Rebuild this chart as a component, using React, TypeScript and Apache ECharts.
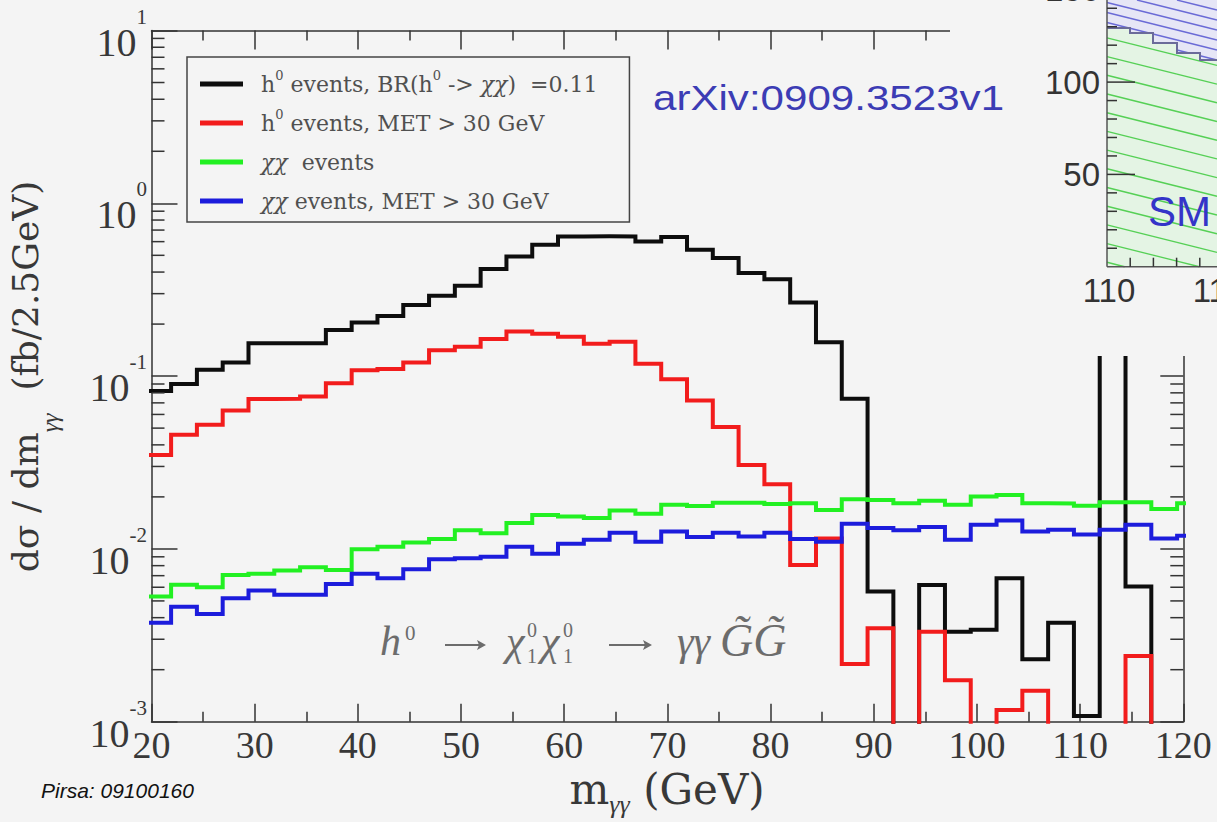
import React, { useEffect, useRef } from "react";
import * as echarts from "echarts";

// ---------- data ----------
// histogram bins: left edge of first bin and bin width (GeV)
const BIN_START = 19.4;
const BIN_WIDTH = 2.5;

const SERIES_NAMES = [
  "h0 events, BR(h0 -> χχ) = 0.11",
  "h0 events, MET > 30 GeV",
  "χχ events",
  "χχ events, MET > 30 GeV",
];

// dσ/dm (fb / 2.5 GeV); 0 = empty bin (below the axis)
const BLACK_H0 = [
  0.082, 0.09, 0.109, 0.12, 0.155, 0.155, 0.155, 0.185, 0.204, 0.223,
  0.258, 0.292, 0.333, 0.417, 0.493, 0.576, 0.643, 0.645, 0.643, 0.601,
  0.638, 0.539, 0.482, 0.395, 0.364, 0.267, 0.157, 0.074, 0.00566, 0,
  0.00619, 0.00332, 0.0034, 0.00677, 0.0023, 0.00374, 0.00108, 0.3, 0.00605, 0,
  0,
];
const RED_H0_MET = [
  0.035, 0.0457, 0.0523, 0.0632, 0.0736, 0.074, 0.0762, 0.091, 0.108, 0.11,
  0.12, 0.141, 0.148, 0.164, 0.181, 0.176, 0.169, 0.154, 0.158, 0.118,
  0.096, 0.0722, 0.0507, 0.0306, 0.0237, 0.00808, 0.0115, 0.00216, 0.00347, 0,
  0.00332, 0.00174, 0, 0.00117, 0.00151, 0, 0, 0, 0.0024, 0,
  0,
];
const GREEN_XX = [
  0.0053, 0.0062, 0.006, 0.00707, 0.00717, 0.00749, 0.00784, 0.00755, 0.00996, 0.0103,
  0.0109, 0.0114, 0.0128, 0.0123, 0.0141, 0.0157, 0.0154, 0.0151, 0.0167, 0.016,
  0.018, 0.0177, 0.0185, 0.0185, 0.0182, 0.0184, 0.0168, 0.0194, 0.0192, 0.0184,
  0.019, 0.018, 0.0201, 0.0205, 0.0184, 0.0183, 0.0178, 0.0186, 0.0186, 0.017,
  0.0184,
];
const BLUE_XX_MET = [
  0.00374, 0.00463, 0.0042, 0.00518, 0.00574, 0.00542, 0.00542, 0.00627, 0.00717, 0.00677,
  0.00763, 0.00872, 0.00884, 0.00902, 0.0103, 0.00936, 0.0107, 0.0113, 0.0124, 0.011,
  0.0126, 0.0117, 0.0124, 0.0118, 0.0124, 0.0114, 0.011, 0.014, 0.0132, 0.0128,
  0.0134, 0.0113, 0.0138, 0.0146, 0.0126, 0.0129, 0.0121, 0.0129, 0.0138, 0.0115,
  0.0119,
];

const SERIES_COLORS = ["#0d0d0d", "#f21c1c", "#22f022", "#1c1cdc"];

const X_MIN = 20;
const X_MAX = 120;
const Y_MIN = 0.001;
const Y_MAX = 10;

const INSET_Y_LABELS = ["150", "100", "50"];
const INSET_X_LABELS = ["110", "115"];

// ---------- helpers ----------
const SERIF = "'Liberation Serif', 'DejaVu Serif', serif";
const DSERIF = "'DejaVu Serif', 'Liberation Serif', serif";
const SANS = "'Liberation Sans', Arial, sans-serif";
const FLOOR = 1e-5;
const ANN = "#6c6c6c";

function histPoints(values: number[]): number[][] {
  const pts: number[][] = [];
  values.forEach((v, i) => {
    const lo = BIN_START + i * BIN_WIDTH;
    const hi = lo + BIN_WIDTH;
    const y = v > 0 ? v : FLOOR;
    pts.push([lo, y], [hi, y]);
  });
  return pts;
}

const MINOR_TICKS: number[] = [];
for (let e = -3; e <= 0; e++) {
  for (let m = 2; m <= 9; m++) MINOR_TICKS.push(m * Math.pow(10, e));
}

const LEGEND_LABELS: Record<string, string> = {
  [SERIES_NAMES[0]]: "{f|h}{s|0}{t| events, BR(h}{s|0}{t| -> }{c|χχ}{t|)  =0.11}",
  [SERIES_NAMES[1]]: "{f|h}{s|0}{t| events, MET > 30 GeV}",
  [SERIES_NAMES[2]]: "{fc|χχ}{t|  events}",
  [SERIES_NAMES[3]]: "{fc|χχ}{t| events, MET > 30 GeV}",
};

type Col = { x0: number; x1: number; top: number; bottom: number };

function hatch(cols: Col[], slope: number, spacing: number, x0: number, color: string, width: number) {
  const out: any[] = [];
  const minTop = Math.min(...cols.map((c) => c.top));
  const maxBottom = Math.max(...cols.map((c) => c.bottom));
  const xEnd = Math.max(...cols.map((c) => c.x1));
  for (let c = minTop - slope * (xEnd - x0) - spacing; c <= maxBottom + spacing; c += spacing) {
    cols.forEach((col) => {
      const ya = c + slope * (col.x0 - x0);
      const xa = col.x0 + Math.max(0, (col.top - ya) / slope);
      const xb = Math.min(col.x1, col.x0 + (col.bottom - ya) / slope);
      if (xb - xa > 0.5) {
        out.push({
          type: "line",
          z: 52,
          silent: true,
          shape: { x1: xa, y1: c + slope * (xa - x0), x2: xb, y2: c + slope * (xb - x0) },
          style: { stroke: color, lineWidth: width },
        });
      }
    });
  }
  return out;
}

function insetGraphics() {
  const L = 1107; // inset left axis
  const B = 266.7; // inset bottom axis
  const R = 1217;
  const steps = [
    { x0: L, x1: 1130, y: 28 },
    { x0: 1130, x1: 1153, y: 33 },
    { x0: 1153, x1: 1177, y: 43 },
    { x0: 1177, x1: 1200, y: 53 },
    { x0: 1200, x1: R, y: 60 },
  ];
  const els: any[] = [];
  els.push({
    type: "rect", z: 50, silent: true,
    shape: { x: 950, y: 0, width: R - 950, height: 356 },
    style: { fill: "#f4f4f4" },
  });
  const greenPts: number[][] = [[L, B]];
  const bluePts: number[][] = [[L, 0], [R, 0]];
  const boundary: number[][] = [];
  steps.forEach((s) => {
    greenPts.push([s.x0, s.y], [s.x1, s.y]);
    boundary.push([s.x0, s.y], [s.x1, s.y]);
  });
  greenPts.push([R, B]);
  [...steps].reverse().forEach((s) => bluePts.push([s.x1, s.y], [s.x0, s.y]));
  els.push({ type: "polygon", z: 51, silent: true, shape: { points: bluePts }, style: { fill: "#e6e6f6" } });
  els.push({ type: "polygon", z: 51, silent: true, shape: { points: greenPts }, style: { fill: "#e4f4e4" } });
  els.push(...hatch(steps.map((s) => ({ x0: s.x0, x1: s.x1, top: 0, bottom: s.y })), 0.25, 10, L, "#6a6ad6", 1.3));
  els.push(...hatch(steps.map((s) => ({ x0: s.x0, x1: s.x1, top: s.y, bottom: B })), 0.25, 18.7, L, "#55d055", 1.4));
  els.push({ type: "polyline", z: 53, silent: true, shape: { points: boundary }, style: { stroke: "#6b6b9a", lineWidth: 2, fill: "none" } });
  els.push({ type: "line", z: 54, silent: true, shape: { x1: L, y1: 0, x2: L, y2: B }, style: { stroke: "#555", lineWidth: 1.5 } });
  els.push({ type: "line", z: 54, silent: true, shape: { x1: L, y1: B, x2: R, y2: B }, style: { stroke: "#555", lineWidth: 1.5 } });
  const unit = 92.3 / 50;
  for (let k = 1; k * 10 * unit <= B; k++) {
    const y = B - k * 10 * unit;
    const major = k % 5 === 0;
    els.push({ type: "line", z: 54, silent: true, shape: { x1: L, y1: y, x2: L + (major ? 28 : 10), y2: y }, style: { stroke: "#333", lineWidth: 1.5 } });
  }
  for (let k = 1; k <= 4; k++) {
    const x = L + k * 23.2;
    els.push({ type: "line", z: 54, silent: true, shape: { x1: x, y1: B, x2: x, y2: B - 9 }, style: { stroke: "#333", lineWidth: 1.5 } });
  }
  INSET_Y_LABELS.forEach((t, i) => {
    els.push({
      type: "text", z: 55, silent: true, x: 1100, y: B - (150 - 50 * i) * unit,
      style: { text: t, font: `33px ${SANS}`, fill: "#333", align: "right", verticalAlign: "middle" },
    });
  });
  INSET_X_LABELS.forEach((t, i) => {
    els.push({
      type: "text", z: 55, silent: true, x: L + 2 + i * 110, y: 290,
      style: { text: t, font: `33px ${SANS}`, fill: "#333", align: "center", verticalAlign: "middle" },
    });
  });
  els.push({
    type: "text", z: 56, silent: true, x: 1148, y: 211,
    style: { text: "SM", font: `42px ${SANS}`, fill: "#3434c8", align: "left", verticalAlign: "middle" },
  });
  return els;
}

function annText(text: string, x: number, y: number, size: number, italic: boolean) {
  return {
    type: "text", z: 60, silent: true, x, y,
    style: {
      text,
      font: `${italic ? "italic " : ""}${size}px ${SERIF}`,
      fill: ANN, align: "left", verticalAlign: "middle",
    },
  };
}

function annArrow(x0: number, x1: number, y: number) {
  return [
    { type: "line", z: 60, silent: true, shape: { x1: x0, y1: y, x2: x1 - 4, y2: y }, style: { stroke: ANN, lineWidth: 2 } },
    { type: "polygon", z: 60, silent: true, shape: { points: [[x1, y], [x1 - 9, y - 5], [x1 - 7, y], [x1 - 9, y + 5]] }, style: { fill: ANN } },
  ];
}

function annotationGraphics() {
  // h0 -> χ1^0 χ1^0 -> γγ G~ G~
  return [
    annText("h", 380, 641, 42, true),
    annText("0", 405, 633, 21, false),
    ...annArrow(445, 486, 645),
    annText("χ", 506, 641, 42, true),
    annText("0", 527, 630, 20, false),
    annText("1", 527, 656, 20, false),
    annText("χ", 541, 641, 42, true),
    annText("0", 563, 630, 20, false),
    annText("1", 563, 656, 20, false),
    ...annArrow(609, 652, 645),
    annText("γγ", 677, 641, 42, true),
    annText("G̃G̃", 720, 640, 46, true),
  ];
}

function buildOption(): any {
  const lineSeries = [BLACK_H0, RED_H0_MET, GREEN_XX, BLUE_XX_MET].map((vals, i) => ({
    type: "line",
    name: SERIES_NAMES[i],
    data: histPoints(vals),
    showSymbol: false,
    symbol: "none",
    clip: true,
    color: SERIES_COLORS[i],
    lineStyle: { color: SERIES_COLORS[i], width: 4, join: "miter" },
    z: 2 + i * 0.1,
    silent: true,
  }));

  const axisLine = { show: true, onZero: false, lineStyle: { color: "#333", width: 1.5 } };
  const tickStyle = { color: "#333", width: 1.5 };
  const LC = "#505050";
  const AC = "#383838";

  return {
    animation: false,
    backgroundColor: "#f4f4f4",
    textStyle: { fontFamily: SERIF },
    grid: { left: 151.5, right: 33.7, top: 30.5, bottom: 100.3, containLabel: false, outerBoundsMode: "none" },
    legend: {
      orient: "vertical",
      left: 187,
      top: 57,
      padding: [12, 32, 6, 13],
      itemGap: 9,
      itemWidth: 43,
      itemHeight: 5,
      icon: "rect",
      borderColor: "#444",
      borderWidth: 1.5,
      backgroundColor: "#f4f4f4",
      selectedMode: false,
      data: SERIES_NAMES,
      formatter: (name: string) => LEGEND_LABELS[name],
      textStyle: {
        fontFamily: DSERIF,
        fontSize: 22,
        color: LC,
        lineHeight: 30,
        rich: {
          f: { fontFamily: DSERIF, fontSize: 22, color: LC, lineHeight: 30, padding: [0, 0, 0, 13] },
          fc: { fontFamily: DSERIF, fontSize: 22, fontStyle: "italic", color: LC, lineHeight: 30, padding: [0, 0, 0, 13] },
          t: { fontFamily: DSERIF, fontSize: 22, color: LC, lineHeight: 30 },
          c: { fontFamily: DSERIF, fontSize: 22, fontStyle: "italic", color: LC, lineHeight: 30 },
          s: { fontFamily: DSERIF, fontSize: 13, color: LC, lineHeight: 13, verticalAlign: "top" },
        },
      },
    },
    xAxis: [
      {
        type: "value",
        position: "bottom",
        min: X_MIN,
        max: X_MAX,
        interval: 10,
        axisLine,
        axisTick: { show: true, inside: true, length: 18, lineStyle: tickStyle },
        minorTick: { show: true, splitNumber: 2, length: 10, lineStyle: tickStyle },
        splitLine: { show: false },
        axisLabel: { margin: 4, fontFamily: SERIF, fontSize: 38, color: AC },
        name: "{m|m}{g|γγ}{t| (GeV)}{z| }",
        nameLocation: "middle",
        nameGap: 21,
        nameTextStyle: {
          fontFamily: DSERIF,
          color: AC,
          rich: {
            m: { fontFamily: DSERIF, fontSize: 42, color: AC, lineHeight: 46, verticalAlign: "top" },
            t: { fontFamily: DSERIF, fontSize: 42, color: AC, lineHeight: 46, verticalAlign: "top" },
            g: { fontFamily: SERIF, fontSize: 26, fontStyle: "italic", color: AC, lineHeight: 26, verticalAlign: "bottom" },
            z: { fontSize: 2, lineHeight: 49, verticalAlign: "top" },
          },
        },
      },
      {
        type: "value",
        position: "top",
        min: X_MIN,
        max: X_MAX,
        interval: 10,
        axisLine,
        axisTick: { show: true, inside: true, length: 19, lineStyle: tickStyle },
        minorTick: { show: true, splitNumber: 2, length: 10, lineStyle: tickStyle },
        splitLine: { show: false },
        axisLabel: { show: false },
      },
    ],
    yAxis: [
      {
        type: "log",
        logBase: 10,
        position: "left",
        min: Y_MIN,
        max: Y_MAX,
        axisLine,
        axisTick: { show: true, inside: true, length: 26, lineStyle: tickStyle },
        splitLine: { show: false },
        axisLabel: {
          margin: 4,
          padding: [7, 0, 0, 0],
          formatter: (v: number) => `{b|10}{s|${Math.round(Math.log10(v))}}{z| }`,
          rich: {
            b: { fontFamily: SERIF, fontSize: 40, color: AC, lineHeight: 40, verticalAlign: "bottom" },
            s: { fontFamily: SERIF, fontSize: 21, color: AC, lineHeight: 21, verticalAlign: "top" },
            z: { fontSize: 2, lineHeight: 56, verticalAlign: "top" },
          },
        },
        name: "{t|dσ / dm}{g|γγ}{t|  (fb/2.5GeV)}{z| }",
        nameLocation: "middle",
        nameGap: 90,
        nameTextStyle: {
          fontFamily: DSERIF,
          color: AC,
          rich: {
            t: { fontFamily: DSERIF, fontSize: 36, color: AC, lineHeight: 40, verticalAlign: "top" },
            g: { fontFamily: SERIF, fontSize: 24, fontStyle: "italic", color: AC, lineHeight: 24, verticalAlign: "bottom" },
            z: { fontSize: 2, lineHeight: 54, verticalAlign: "top" },
          },
        },
      },
      {
        type: "log",
        logBase: 10,
        position: "right",
        min: Y_MIN,
        max: Y_MAX,
        axisLine,
        axisTick: { show: true, inside: true, length: 23, lineStyle: tickStyle },
        splitLine: { show: false },
        axisLabel: { show: false },
      },
    ],
    series: [
      ...lineSeries,
      {
        type: "custom",
        name: "minor ticks",
        coordinateSystem: "cartesian2d",
        xAxisIndex: 0,
        yAxisIndex: 0,
        silent: true,
        z: 3,
        data: MINOR_TICKS.map((v) => [X_MIN, v]),
        renderItem: (_p: any, api: any) => {
          const v = api.value(1);
          const l = api.coord([X_MIN, v]);
          const r = api.coord([X_MAX, v]);
          return {
            type: "group",
            children: [
              { type: "line", shape: { x1: l[0], y1: l[1], x2: l[0] + 13, y2: l[1] }, style: { stroke: "#333", lineWidth: 1.5 } },
              { type: "line", shape: { x1: r[0] - 13, y1: r[1], x2: r[0], y2: r[1] }, style: { stroke: "#333", lineWidth: 1.5 } },
            ],
          };
        },
      },
    ],
    graphic: [
      ...insetGraphics(),
      {
        type: "text", z: 60, silent: true, x: 653, y: 98, scaleX: 1.17,
        style: { text: "arXiv:0909.3523v1", font: `36px ${SANS}`, fill: "#3c3cb4", align: "left", verticalAlign: "middle" },
      },
      {
        type: "text", z: 60, silent: true, x: 41, y: 790,
        style: { text: "Pirsa: 09100160", font: `italic 21px ${SANS}`, fill: "#111", align: "left", verticalAlign: "middle" },
      },
      ...annotationGraphics(),
    ],
  };
}

export default function App() {
  const ref = useRef<HTMLDivElement>(null);
  useEffect(() => {
    if (!ref.current) return;
    const chart = echarts.init(ref.current, undefined, { renderer: "svg" });
    chart.setOption(buildOption());
    return () => chart.dispose();
  }, []);
  return (
    <div
      ref={ref}
      style={{ position: "fixed", left: 0, top: 0, width: 1217, height: 822, background: "#f4f4f4" }}
    />
  );
}
